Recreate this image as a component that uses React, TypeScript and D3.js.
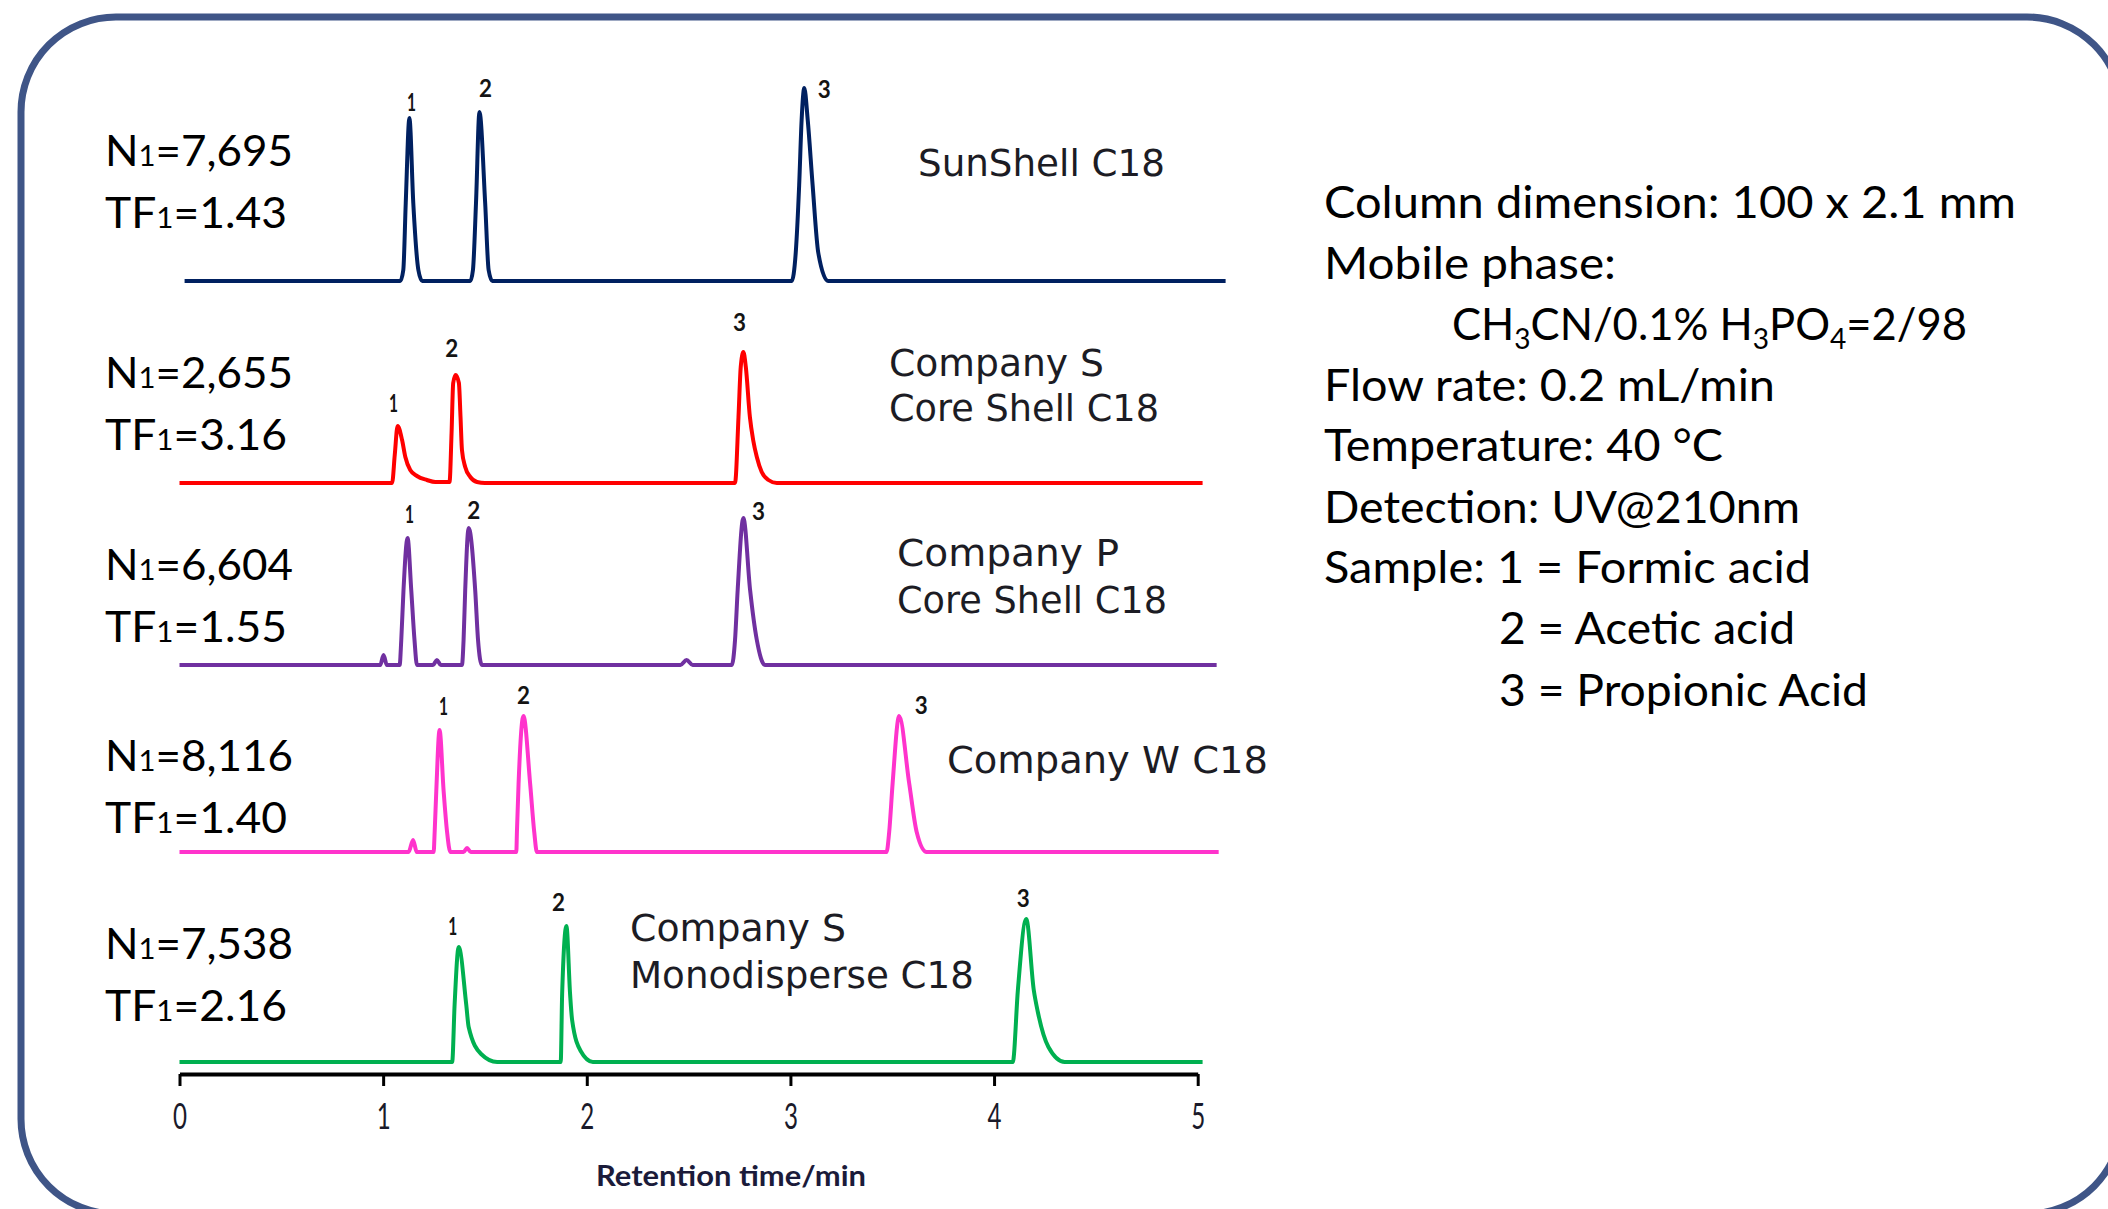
import React, { useEffect, useRef } from "react";
import * as d3 from "d3";

// chromatograms, [retention time (min), signal (mV)]
const sunshellTrace: [number, number][] = [
  [0.025, 0], [1.084, 0], [1.099, 5.5], [1.111, 39], [1.129, 81.5], [1.148, 39], [1.173, 5.5], [1.192, 0],
  [1.428, 0], [1.441, 5.5], [1.456, 39], [1.473, 84.5], [1.501, 39], [1.518, 5.5], [1.536, 0],
  [3.006, 0], [3.026, 14], [3.043, 48], [3.055, 80.5], [3.068, 96.5], [3.085, 80.5], [3.109, 48], [3.137, 14], [3.185, 0],
  [5.137, 0],
];
const companySCoreTrace: [number, number][] = [
  [0, 0], [1.044, 0], [1.057, 14], [1.071, 28.5], [1.093, 21.5], [1.109, 13], [1.133, 6.5], [1.166, 3.5], [1.215, 1.5], [1.256, 0.5],
  [1.326, 0.5], [1.336, 25], [1.344, 50], [1.356, 54], [1.372, 50], [1.38, 33], [1.387, 16.5], [1.403, 8], [1.428, 3], [1.461, 0.5], [1.5, 0],
  [2.728, 0], [2.745, 33], [2.756, 58], [2.769, 65.5], [2.781, 58], [2.801, 33], [2.817, 21.5], [2.835, 13], [2.859, 5.5], [2.892, 1.5], [2.933, 0],
  [5.024, 0],
];
const companyPTrace: [number, number][] = [
  [0, 0], [0.986, 0], [1.002, 5], [1.018, 0],
  [1.081, 0], [1.089, 12.5], [1.1, 37.5], [1.12, 63.5], [1.138, 37.5], [1.154, 12.5], [1.166, 0],
  [1.245, 0], [1.264, 2.5], [1.283, 0],
  [1.387, 0], [1.395, 12.5], [1.403, 37.5], [1.42, 68.5], [1.452, 37.5], [1.466, 12.5], [1.485, 0],
  [2.46, 0], [2.49, 2.5], [2.52, 0],
  [2.712, 0], [2.728, 12.5], [2.741, 37.5], [2.769, 73.5], [2.802, 37.5], [2.835, 12.5], [2.875, 0],
  [5.093, 0],
];
const companyWTrace: [number, number][] = [
  [0, 0], [1.125, 0], [1.147, 6], [1.165, 0],
  [1.248, 0], [1.253, 10], [1.261, 30.5], [1.277, 61], [1.297, 30.5], [1.314, 10], [1.33, 0],
  [1.395, 0], [1.412, 2], [1.43, 0],
  [1.654, 0], [1.657, 10], [1.665, 34], [1.689, 68], [1.722, 34], [1.742, 10], [1.755, 0],
  [3.472, 0], [3.485, 10], [3.502, 34.5], [3.534, 68], [3.583, 34.5], [3.62, 10], [3.669, 0],
  [5.103, 0],
];
const companySMonoTrace: [number, number][] = [
  [0, 0], [1.339, 0], [1.351, 28.75], [1.371, 57.5], [1.408, 28.75], [1.42, 17.5], [1.481, 4], [1.56, 0],
  [1.872, 0], [1.879, 34], [1.9, 68], [1.918, 34], [1.928, 21], [1.97, 5.5], [2.03, 0],
  [4.092, 0], [4.117, 36], [4.158, 71.5], [4.195, 36], [4.215, 25], [4.267, 7.5], [4.347, 0],
  [5.024, 0],
];
const traces = [sunshellTrace, companySCoreTrace, companyPTrace, companyWTrace, companySMonoTrace];

// retention time of peaks 1, 2, 3 in each run
const peakTimes = [
  [1.129, 1.473, 3.068],
  [1.071, 1.356, 2.769],
  [1.12, 1.42, 2.769],
  [1.277, 1.689, 3.534],
  [1.371, 1.9, 4.158],
];
const peakIds = ["1", "2", "3"];

const columnNames = [
  ["SunShell  C18"],
  ["Company S", "Core Shell C18"],
  ["Company P", "Core Shell C18"],
  ["Company W C18"],
  ["Company S", "Monodisperse C18"],
];
const plateCounts = ["7,695", "2,655", "6,604", "8,116", "7,538"];
const tailingFactors = ["1.43", "3.16", "1.55", "1.40", "2.16"];

const timeTicks = [0, 1, 2, 3, 4, 5];
const xTitle = "Retention time/min";

const conditions = [
  "Column dimension: 100 x 2.1 mm",
  "Mobile phase:",
  "MOBILE",
  "Flow rate: 0.2 mL/min",
  "Temperature: 40 °C",
  "Detection: UV@210nm",
  "Sample: 1 = Formic acid",
  "2 = Acetic acid",
  "3 = Propionic Acid",
];

// layout
const W = 2108;
const H = 1209;
const baselineY = [281, 483, 665, 852, 1062];
const colors = ["#002060", "#ff0000", "#7030a0", "#ff33cc", "#00b050"];
const labelOffsets = [
  [[2, -17], [6, -25], [20, 0]],
  [[-4, -24], [-4, -28], [-4, -31]],
  [[2, -25], [5, -19], [15, -8]],
  [[4, -25], [0, -22], [22, -12]],
  [[-6, -22], [-8, -25], [-3, -22]],
];
const nameLayout = [
  { x: 918, ys: [176], widths: [247] },
  { x: 889, ys: [376, 421], widths: [215, 270] },
  { x: 897, ys: [566, 613], widths: [222, 270] },
  { x: 947, ys: [773], widths: [321] },
  { x: 630, ys: [941, 988], widths: [216, 344] },
];
const statY = [166, 388, 580, 771, 959];
const condLayout = [
  { x: 1324, y: 218, w: 692 },
  { x: 1324, y: 279, w: 292 },
  { x: 1452, y: 340, w: 515 },
  { x: 1324, y: 401, w: 451 },
  { x: 1324, y: 461, w: 399 },
  { x: 1324, y: 523, w: 476 },
  { x: 1324, y: 583, w: 487 },
  { x: 1499, y: 644, w: 296 },
  { x: 1499, y: 706, w: 369 },
];
const AXIS_Y = 1074;

const calibri = "Lato, 'Open Sans', sans-serif";
const gothic = "'DejaVu Sans', sans-serif";

const x = d3.scaleLinear().domain([0, 5]).range([179.5, 1197.7]);
const y = d3.scaleLinear().domain([0, 100]).range([0, 200]);

const App: React.FC = () => {
  const axisRef = useRef<SVGGElement | null>(null);

  useEffect(() => {
    if (!axisRef.current) return;
    const g = d3.select(axisRef.current);
    g.call(
      d3.axisBottom(x).tickValues(timeTicks).tickFormat(d3.format("d")).tickSize(12).tickSizeOuter(0).tickPadding(17)
    );
    g.select(".domain").attr("stroke", "#000").attr("stroke-width", 4);
    g.selectAll(".tick line").attr("stroke", "#000").attr("stroke-width", 3);
    g.selectAll(".tick text")
      .attr("fill", "#1a1a2a")
      .attr("font-family", calibri)
      .attr("font-size", 36)
      .attr("textLength", 14)
      .attr("lengthAdjust", "spacingAndGlyphs");
    return () => {
      g.selectAll("*").remove();
    };
  }, []);

  return (
    <svg width={W} height={H} style={{ position: "absolute", left: 0, top: 0, background: "#fff" }}>
      <rect x={21} y={17} width={2101} height={1197} rx={95} ry={95} fill="none" stroke="#3f5587" strokeWidth={7} />

      {traces.map((tr, i) => {
        const base = baselineY[i];
        const line = d3
          .line<[number, number]>()
          .x((d) => x(d[0]))
          .y((d) => base - y(d[1]))
          .curve(d3.curveMonotoneX);
        return (
          <g key={i}>
            <path d={line(tr) || ""} fill="none" stroke={colors[i]} strokeWidth={4} strokeLinejoin="round" />
            {peakTimes[i].map((t, k) => {
              const apex = tr.find((p) => p[0] === t) || [t, 0];
              const [dx, dy] = labelOffsets[i][k];
              return (
                <text
                  key={k}
                  x={x(t) + dx}
                  y={base - y(apex[1]) + dy}
                  textAnchor="middle"
                  dominantBaseline="central"
                  fontFamily={calibri}
                  fontWeight={700}
                  fontSize={25}
                  fill="#141414"
                  textLength={peakIds[k] === "1" ? 9 : 13}
                  lengthAdjust="spacingAndGlyphs"
                >
                  {peakIds[k]}
                </text>
              );
            })}
            <text x={105} y={statY[i]} fontFamily={calibri} fontSize={42} fill="#000" textLength={188} lengthAdjust="spacingAndGlyphs">
              N<tspan fontSize={28}>1</tspan>={plateCounts[i]}
            </text>
            <text x={105} y={statY[i] + 62} fontFamily={calibri} fontSize={42} fill="#000" textLength={182} lengthAdjust="spacingAndGlyphs">
              TF<tspan fontSize={28}>1</tspan>={tailingFactors[i]}
            </text>
            {columnNames[i].map((nm, k) => (
              <text
                key={k}
                x={nameLayout[i].x}
                y={nameLayout[i].ys[k]}
                fontFamily={gothic}
                fontSize={38}
                fill="#1c1c24"
                textLength={nameLayout[i].widths[k]}
                lengthAdjust="spacingAndGlyphs"
              >
                {nm}
              </text>
            ))}
          </g>
        );
      })}

      <g ref={axisRef} transform={`translate(0,${AXIS_Y})`} />
      <text
        x={731}
        y={1186}
        textAnchor="middle"
        fontFamily={calibri}
        fontWeight={700}
        fontSize={28}
        fill="#1b1b3a"
        textLength={270}
        lengthAdjust="spacingAndGlyphs"
      >
        {xTitle}
      </text>

      {conditions.map((c, i) => (
        <text
          key={i}
          x={condLayout[i].x}
          y={condLayout[i].y}
          fontFamily={calibri}
          fontSize={45}
          fill="#000"
          textLength={condLayout[i].w}
          lengthAdjust="spacingAndGlyphs"
        >
          {c === "MOBILE" ? (
            <>
              CH<tspan fontSize={29} dy={9}>3</tspan>
              <tspan dy={-9}>CN/0.1% H</tspan>
              <tspan fontSize={29} dy={9}>3</tspan>
              <tspan dy={-9}>PO</tspan>
              <tspan fontSize={29} dy={9}>4</tspan>
              <tspan dy={-9}>=2/98</tspan>
            </>
          ) : (
            c
          )}
        </text>
      ))}
    </svg>
  );
};

export default App;
